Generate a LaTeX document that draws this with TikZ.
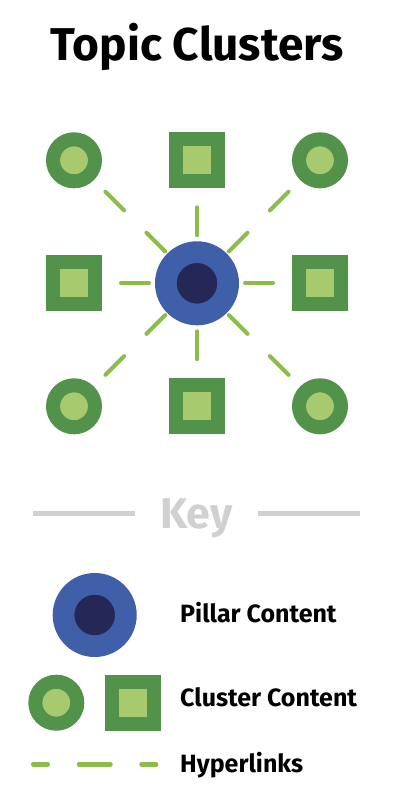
\documentclass[tikz,border=0pt]{standalone}
\usepackage{fontspec}
\setmainfont{Fira Sans}
\usetikzlibrary{positioning}
\definecolor{clusterdark}{HTML}{53924B}
\definecolor{clusterlight}{HTML}{A8CA6E}
\definecolor{pillarblue}{HTML}{3F5FA8}
\definecolor{pillarnavy}{HTML}{252856}
\definecolor{linkgreen}{HTML}{8BBD4A}
\definecolor{keygray}{HTML}{D0D0D0}
\tikzset{
  clustercirc/.style={circle, draw=clusterdark, fill=clusterlight, line width=14pt, minimum size=42pt, inner sep=0pt},
  clustersq/.style={rectangle, draw=clusterdark, fill=clusterlight, line width=14pt, minimum size=42pt, inner sep=0pt},
  pillar/.style={circle, draw=pillarblue, fill=pillarnavy, line width=21.7pt, minimum size=62.3pt, inner sep=0pt},
  link/.style={draw=linkgreen, line width=4pt, line cap=round},
  hop/.style={link, shorten <=6pt, shorten >=19pt},
  hops/.style={link, shorten <=3pt, dash pattern=on 26.5pt off 31.5pt},
  keytext/.style={anchor=base west, inner sep=0pt, font=\fontsize{25}{28}\selectfont\bfseries}
}
\begin{document}
\begin{tikzpicture}[x=1pt, y=-1pt, node distance=123pt, on grid]
        \useasboundingbox (0,0) rectangle (408,792);
        \node (title) [anchor=base, inner sep=0pt, font=\fontsize{46}{50}\selectfont\bfseries] at (197,60) {Topic Clusters};

        \node (P) [pillar] at (197,283.3) {};
        \node (N) [clustersq, above = of P] {};
        \node (S) [clustersq, below = of P] {};
        \node (W) [clustersq, left = of P] {};
        \node (E) [clustersq, right = of P] {};
        \node (NW) [clustercirc, above left = 123pt and 123pt of P] {};
        \node (NE) [clustercirc, above right = 123pt and 123pt of P] {};
        \node (SW) [clustercirc, below left = 123pt and 123pt of P] {};
        \node (SE) [clustercirc, below right = 123pt and 123pt of P] {};
        \foreach \c in {N,S,W,E} \draw [hop] (P) -- (\c);
        \foreach \c in {NW,NE,SW,SE} \draw [hops] (P) -- (\c);

        \node (key) [anchor=base, inner sep=0pt, text=keygray, font=\fontsize{43}{46}\selectfont\bfseries] at (196.5,528.3) {Key};
        \coordinate (kl1) at (33.3,513.3);
        \coordinate (kl2) at (135,513.3);
        \coordinate (kr1) at (258.3,513.3);
        \coordinate (kr2) at (360,513.3);
        \draw [keygray, line width=5pt] (kl1) -- (kl2);
        \draw [keygray, line width=5pt] (kr1) -- (kr2);

        \node (keyP) [pillar] at (94.7,615) {};
        \node (keyC) [clustercirc] at (56.3,702.7) {};
        \node (keyS) [clustersq] at (133.2,702.5) {};
        \coordinate (h1) at (31,764.3);
        \coordinate (h2) at (158.3,764.3);
        \draw [link, line width=4.5pt, shorten <=2.2pt, dash pattern=on 14.6pt off 31.2pt on 31.5pt off 31pt] (h1) -- (h2);

        \node (pillartext) [keytext] at (180,622.7) {Pillar Content};
        \node (clustertext) [keytext] at (180,706.7) {Cluster Content};
        \node (linktext) [keytext] at (180,772) {Hyperlinks};
    \end{tikzpicture}
\end{document}
